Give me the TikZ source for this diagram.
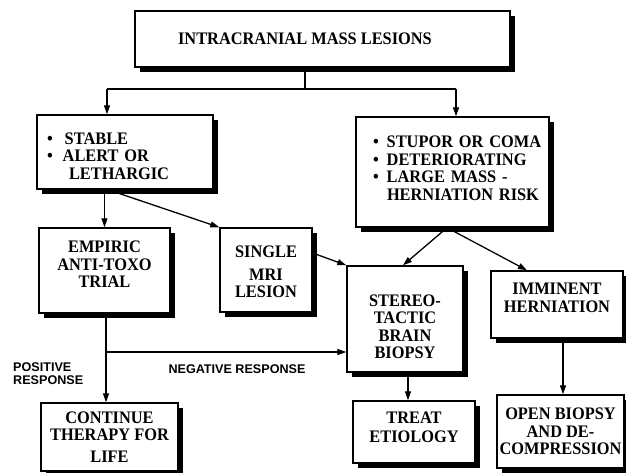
\documentclass[tikz,border=0pt]{standalone}
\usepackage{fontspec}
\setmainfont{Liberation Serif}[FakeStretch=0.93]
\newfontfamily\labfont{Liberation Sans}
\usetikzlibrary{arrows.meta,shadows}
\begin{document}
\begin{tikzpicture}[x=1pt,y=-1pt,
  box/.style={draw, line width=1.4pt, fill=white, inner sep=0pt,
    drop shadow={shadow xshift=5pt, shadow yshift=-5pt, fill=black, opacity=1},
    font=\bfseries\fontsize{17.6}{17.5}\selectfont},
  conn/.style={line width=1.3pt},
  arr/.style={line width=1.3pt, -{Triangle[length=9pt,width=6pt]}},
  lab/.style={font=\labfont\bfseries\fontsize{12.6}{13}\selectfont, inner sep=0pt}]
\useasboundingbox (0,0) rectangle (626,473);
\fill[white] (0,0) rectangle (626,473);
\clip (0,0) rectangle (626,473);

% boxes
\node[box, minimum width=375pt, minimum height=56pt] (top) at (322.5,39)
  {\hspace*{-35pt}INTRACRANIAL MASS LESIONS};
\node[box, minimum width=176pt, minimum height=74pt, text width=156pt, align=left] (stable) at (125,152)
  {\mbox{\rule{0pt}{19.7pt}\textbullet\hspace{12pt}STABLE}\\ \mbox{\textbullet\hspace{10pt}ALERT OR}\\ \mbox{\hspace*{22pt}LETHARGIC}};
\node[box, minimum width=193pt, minimum height=110pt, text width=159pt, align=left] (stupor) at (452.5,172)
  {\mbox{\textbullet\hspace{8pt}STUPOR OR COMA}\\ \mbox{\textbullet\hspace{8pt}DETERIORATING}\\ \mbox{\textbullet\hspace{8pt}LARGE MASS -}\\ \mbox{\hspace*{14pt}HERNIATION RISK\rule[-8pt]{0pt}{8pt}}};
\node[box, minimum width=131pt, minimum height=85pt, align=center] (empiric) at (104.5,270.5)
  {EMPIRIC\\ANTI-TOXO\\TRIAL\rule[-12pt]{0pt}{12pt}};
\node[box, minimum width=92pt, minimum height=84pt, align=center] (single) at (266,270)
  {\rule{0pt}{15.7pt}SINGLE\\[5pt]MRI\\LESION};
\node[box, minimum width=116pt, minimum height=106pt, align=center] (stereo) at (405,319)
  {\rule{0pt}{26.7pt}STEREO-\\TACTIC\\BRAIN\\BIOPSY};
\node[box, minimum width=132pt, minimum height=67pt, align=center] (imminent) at (557,304.5)
  {IMMINENT\\HERNIATION\rule[-14pt]{0pt}{14pt}};
\node[box, minimum width=127pt, minimum height=73pt, align=center] (open) at (560.5,431.5)
  {OPEN BIOPSY\\AND DE-\\COMPRESSION};
\node[box, minimum width=137pt, minimum height=68pt, align=center] (continue) at (109.5,437)
  {CONTINUE\\THERAPY FOR\\[4pt]LIFE};
\node[box, minimum width=122pt, minimum height=62pt, align=center] (treat) at (414,432)
  {TREAT\\[1.5pt]ETIOLOGY\rule[-9pt]{0pt}{9pt}};

% labels
\node[lab, align=left, anchor=west] (pos) at (13,373.5) {POSITIVE\\RESPONSE};
\node[lab] (neg) at (237,369) {NEGATIVE RESPONSE};

% connectors
\coordinate (j1) at (305,89);
\coordinate (jl) at (107,89);
\coordinate (jr) at (456,89);
\draw[conn] (top.south -| j1) -- (j1);
\draw[conn] (jl) -- (jr);
\draw[arr] (jl) -- (jl |- stable.north);
\draw[arr] (jr) -- (jr |- stupor.north);

\draw[arr] (empiric.north |- stable.south) -- (empiric.north);
\draw[arr] ([xshift=-17pt]stable.south) -- (single.north west);
\draw[arr] ([yshift=17pt]single.east) -- (stereo.north west);

\draw[arr] ([xshift=-5.5pt]stupor.south) -- ([xshift=-2pt]stereo.north);
\draw[arr] ([xshift=-5.5pt]stupor.south) -- ([xshift=-30pt]imminent.north);

\draw[arr] ([xshift=3pt]stereo.south) -- ([xshift=-6pt]treat.north);
\draw[arr] ([xshift=6pt]imminent.south) -- ([xshift=2.5pt]open.north);

\draw[arr] ([xshift=1.5pt]empiric.south) -- ([xshift=-3.5pt]continue.north);
\coordinate (nb) at (106,352);
\draw[arr] (nb) -- (nb -| stereo.west);
\end{tikzpicture}
\end{document}
